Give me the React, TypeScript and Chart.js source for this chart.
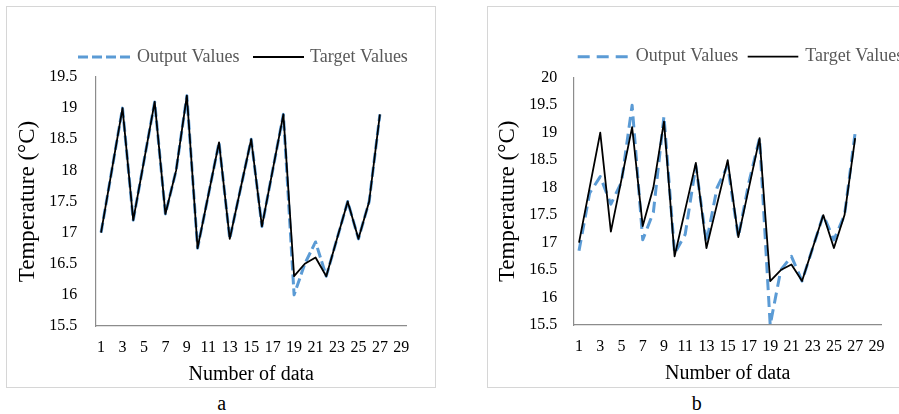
import React, { useEffect, useRef } from "react";
import { Chart, registerables } from "chart.js";

Chart.register(...registerables);

const categories = ["1","2","3","4","5","6","7","8","9","10","11","12","13","14","15","16","17","18","19","20","21","22","23","24","25","26","27","28","29"];

const targetValues = [17.0, 18.0, 19.0, 17.2, 18.15, 19.1, 17.3, 18.0, 19.2, 16.75, 17.6, 18.45, 16.9, 17.7, 18.5, 17.1, 18.0, 18.9, 16.3, 16.5, 16.6, 16.3, 16.9, 17.5, 16.9, 17.5, 18.9];

const outputValuesA = [17.0, 18.0, 19.0, 17.2, 18.15, 19.1, 17.3, 18.0, 19.2, 16.75, 17.6, 18.45, 16.9, 17.7, 18.5, 17.1, 18.0, 18.9, 16.0, 16.5, 16.85, 16.3, 16.9, 17.5, 16.9, 17.5, 18.9];

const outputValuesB = [16.85, 17.9, 18.2, 17.7, 18.1, 19.5, 17.05, 17.55, 19.3, 16.8, 17.15, 18.4, 17.0, 18.0, 18.4, 17.1, 18.1, 18.9, 15.5, 16.5, 16.75, 16.3, 16.9, 17.5, 17.05, 17.5, 19.0];

const yTicksA = { min: 15.5, max: 19.5, step: 0.5 };
const yTicksB = { min: 15.5, max: 20, step: 0.5 };

const SERIF = "'Liberation Serif', 'Times New Roman', serif";
const BLUE = "#5b9bd5";

const manualLegend = {
  id: "manualLegend",
  afterDraw(chart: any, _args: any, opts: any) {
    const ctx = chart.ctx;
    ctx.save();
    chart.data.datasets.forEach((ds: any, i: number) => {
      const it = opts.items[i];
      if (!it) return;
      ctx.beginPath();
      ctx.strokeStyle = ds.borderColor;
      ctx.lineWidth = ds.borderWidth;
      ctx.setLineDash(it.dash || ds.borderDash || []);
      ctx.moveTo(it.x, opts.y);
      ctx.lineTo(it.x + it.w, opts.y);
      ctx.stroke();
      ctx.setLineDash([]);
      ctx.font = opts.font;
      ctx.fillStyle = opts.color;
      ctx.textBaseline = "middle";
      ctx.textAlign = "left";
      ctx.fillText(ds.label, it.x + it.w + it.gap, opts.y);
    });
    ctx.restore();
  },
};

type PanelCfg = {
  output: number[];
  yT: { min: number; max: number; step: number };
  dash: number[];
  legendDash: number[];
  legend: { x: number; w: number; gap: number }[];
  legendY: number;
  padTop: number;
  padRight: number;
  yWidth: number;
  xHeight: number;
  yTickPad: number;
  yTitlePad: number;
  xTickPad: number;
  xTitlePad: number;
};

function makeConfig(c: PanelCfg): any {
  return {
    type: "line",
    data: {
      labels: categories,
      datasets: [
        {
          label: "Output Values",
          data: c.output,
          borderColor: BLUE,
          borderWidth: 3,
          borderDash: c.dash,
          borderJoinStyle: "round",
          pointRadius: 0,
          tension: 0,
          fill: false,
          order: 1,
        },
        {
          label: "Target Values",
          data: targetValues,
          borderColor: "#000000",
          borderWidth: 1.8,
          borderJoinStyle: "round",
          pointRadius: 0,
          tension: 0,
          fill: false,
          order: 0,
        },
      ],
    },
    options: {
      animation: false,
      responsive: false,
      maintainAspectRatio: false,
      layout: { padding: { top: c.padTop, right: c.padRight, bottom: 0, left: 0 } },
      plugins: {
        legend: { display: false },
        tooltip: { enabled: false },
        manualLegend: {
          items: c.legend.map((l, i) => ({ ...l, dash: i === 0 ? c.legendDash : [] })),
          y: c.legendY,
          font: `18px ${SERIF}`,
          color: "#595959",
        },
      },
      scales: {
        x: {
          type: "category",
          offset: true,
          grid: { display: false, drawTicks: false },
          border: { display: true, color: "#8c8c8c", width: 1.2 },
          ticks: {
            autoSkip: false,
            maxRotation: 0,
            padding: c.xTickPad,
            color: "#000",
            font: { family: SERIF, size: 16 },
            callback: function (this: any, _v: any, idx: number) {
              return idx % 2 === 0 ? categories[idx] : "";
            },
          },
          title: {
            display: true,
            text: "Number of data",
            color: "#000",
            font: { family: SERIF, size: 20 },
            padding: { top: 0, bottom: c.xTitlePad },
          },
          afterFit(scale: any) {
            scale.height = c.xHeight;
          },
        },
        y: {
          min: c.yT.min,
          max: c.yT.max,
          grid: { display: false, drawTicks: false },
          border: { display: true, color: "#8c8c8c", width: 1.2 },
          ticks: {
            stepSize: c.yT.step,
            padding: c.yTickPad,
            color: "#000",
            font: { family: SERIF, size: 16 },
            callback: (v: any) => {
              const n = Number(v);
              return Number.isInteger(n) ? String(n) : n.toFixed(1);
            },
          },
          title: {
            display: true,
            text: "Temperature (°C)",
            color: "#000",
            font: { family: SERIF, size: 23 },
            padding: { top: c.yTitlePad, bottom: 0 },
          },
          afterFit(scale: any) {
            scale.width = c.yWidth;
          },
        },
      },
    },
    plugins: [manualLegend],
  };
}

const cfgA: PanelCfg = {
  output: outputValuesA,
  yT: yTicksA,
  dash: [10, 4],
  legendDash: [10, 4],
  legend: [
    { x: 72, w: 54, gap: 5 },
    { x: 247, w: 51, gap: 6 },
  ],
  legendY: 51,
  padTop: 71,
  padRight: 29.3,
  yWidth: 89.7,
  xHeight: 62,
  yTickPad: 18.4,
  yTitlePad: 8.5,
  xTickPad: 12.4,
  xTitlePad: 1,
};

const cfgB: PanelCfg = {
  output: outputValuesB,
  yT: yTicksB,
  dash: [11, 6],
  legendDash: [12, 7],
  legend: [
    { x: 90.7, w: 50, gap: 8 },
    { x: 260.7, w: 50.6, gap: 7 },
  ],
  legendY: 50.7,
  padTop: 71.7,
  padRight: 35.3,
  yWidth: 86.7,
  xHeight: 63,
  yTickPad: 16.4,
  yTitlePad: 7.2,
  xTickPad: 12.1,
  xTitlePad: 2.7,
};

function Panel({ cfg, left, label, labelX }: { cfg: PanelCfg; left: number; label: string; labelX: number }) {
  const ref = useRef<HTMLCanvasElement | null>(null);
  useEffect(() => {
    if (!ref.current) return;
    const chart = new Chart(ref.current, makeConfig(cfg));
    return () => chart.destroy();
  }, [cfg]);
  return (
    <>
      <div
        style={{
          position: "absolute",
          left,
          top: 6,
          width: 430,
          height: 382,
          boxSizing: "border-box",
          border: "1px solid #d6d6d6",
        }}
      />
      <canvas
        ref={ref}
        width={430}
        height={382}
        style={{ position: "absolute", left, top: 6, width: 430, height: 382 }}
      />
      <div
        style={{
          position: "absolute",
          left: labelX - 20,
          top: 391,
          width: 40,
          height: 24,
          lineHeight: "24px",
          textAlign: "center",
          fontFamily: SERIF,
          fontSize: 20,
          color: "#000",
        }}
      >
        {label}
      </div>
    </>
  );
}

export default function App() {
  return (
    <div
      style={{
        position: "absolute",
        left: 0,
        top: 0,
        width: 899,
        height: 414,
        overflow: "hidden",
        background: "#fff",
      }}
    >
      <Panel cfg={cfgA} left={6} label="a" labelX={221.7} />
      <Panel cfg={cfgB} left={487} label="b" labelX={696.7} />
    </div>
  );
}
